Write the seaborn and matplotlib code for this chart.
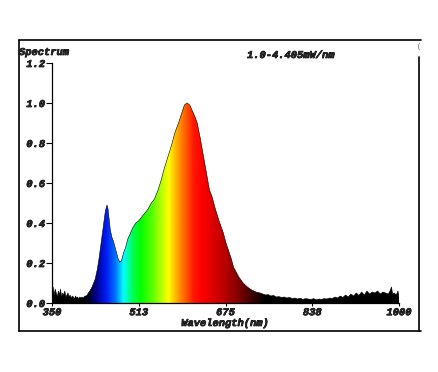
import numpy as np
import matplotlib
matplotlib.use("Agg")
import matplotlib.pyplot as plt
import matplotlib.patheffects as pe
from matplotlib.colors import LinearSegmentedColormap
from matplotlib.lines import Line2D
import seaborn as sns

# spectrum (wavelength nm, relative intensity)
wavelength = [
    350, 352, 354, 356, 358, 360, 362, 364, 366, 368, 370, 372, 374, 376, 378,
    380, 382, 384, 386, 388, 390, 392, 394, 396, 398, 400, 402, 404, 406, 408,
    410, 412, 414, 416, 418,
    421, 425, 428, 431, 435, 438, 441, 444, 447, 450, 453, 455, 457, 459, 462,
    465, 468, 471, 474, 477, 480, 484, 488, 492, 497, 502, 507, 512, 518, 524,
    530, 536, 542, 548, 554, 560, 567, 574, 580, 587, 593, 598, 603, 608, 613,
    618, 622, 628, 634, 640, 645, 650, 656, 663, 671, 676, 681, 686, 690, 695,
    700, 708, 716, 724, 732, 740,
    745, 750, 755, 760, 765, 770, 775, 780, 785, 790, 795, 800, 805, 810, 815,
    820, 825, 830, 835, 840, 845, 850, 855, 860, 865, 870, 875, 880, 885, 890,
    895, 900, 905, 910, 915, 920, 925, 930, 935, 940, 945, 950, 955, 960, 965,
    970, 975, 980, 983, 986, 988, 991, 995, 998, 1000,
]
intensity = [
    0.05, 0.08, 0.04, 0.07, 0.05, 0.03, 0.06, 0.04, 0.07, 0.03, 0.05, 0.04, 0.06, 0.03, 0.04,
    0.05, 0.03, 0.04, 0.025, 0.035, 0.03, 0.02, 0.035, 0.025, 0.03, 0.02, 0.03, 0.025, 0.03, 0.025,
    0.03, 0.035, 0.035, 0.04, 0.05,
    0.06, 0.08, 0.10, 0.12, 0.17, 0.22, 0.28, 0.34, 0.40, 0.46, 0.49, 0.47, 0.42, 0.37, 0.33,
    0.31, 0.28, 0.25, 0.22, 0.205, 0.21, 0.25, 0.28, 0.32, 0.35, 0.38, 0.40, 0.41, 0.43, 0.45,
    0.47, 0.50, 0.52, 0.56, 0.61, 0.67, 0.73, 0.79, 0.85, 0.90, 0.95, 0.99, 1.00, 0.99, 0.96,
    0.93, 0.90, 0.82, 0.73, 0.64, 0.565, 0.53, 0.47, 0.41, 0.35, 0.30, 0.26, 0.22, 0.18, 0.155,
    0.13, 0.10, 0.08, 0.065, 0.055, 0.05,
    0.045, 0.04, 0.042, 0.035, 0.038, 0.03, 0.032, 0.028, 0.03, 0.025, 0.028, 0.022, 0.025, 0.02, 0.024,
    0.018, 0.022, 0.02, 0.018, 0.022, 0.016, 0.02, 0.018, 0.022, 0.02, 0.025, 0.022, 0.03, 0.025, 0.035,
    0.028, 0.04, 0.03, 0.045, 0.035, 0.05, 0.038, 0.055, 0.04, 0.06, 0.045, 0.055, 0.05, 0.06, 0.045,
    0.055, 0.05, 0.045, 0.06, 0.08, 0.045, 0.05, 0.04, 0.06, 0.03,
]
x_ticks = [350, 512.5, 675, 837.5, 1000]
x_labels = ["350", "513", "675", "838", "1000"]
y_ticks = [0.0, 0.2, 0.4, 0.6, 0.8, 1.0, 1.2]

sns.set_style("white")
plt.rcParams["font.family"] = ["Liberation Mono", "DejaVu Sans"]
heavy = [pe.withStroke(linewidth=0.5, foreground="black")]
font = dict(fontsize=7.5, fontweight="bold", fontstyle="italic", path_effects=heavy)

W, H = 438, 372
fig = plt.figure(figsize=(W / 100, H / 100), dpi=100)
ax = fig.add_axes([52 / W, 1 - 303 / H, 347 / W, 240 / H])

# wavelength -> colour gradient for the fill
nodes = [
    (350, (0, 0, 0)), (412, (0, 0, 0)), (430, (0, 0, 0.5)), (450, (0, 0.1, 0.95)),
    (468, (0, 0.45, 1)), (483, (0, 1, 1)), (500, (0, 1, 0.35)), (515, (0, 1, 0)),
    (540, (0.4, 1, 0)), (568, (1, 1, 0)), (592, (1, 0.5, 0)), (615, (1, 0.1, 0)),
    (630, (1, 0, 0)), (670, (0.75, 0, 0)), (700, (0.5, 0, 0)), (728, (0.2, 0, 0)),
    (750, (0, 0, 0)), (1000, (0, 0, 0)),
]
cmap = LinearSegmentedColormap.from_list(
    "spec", [((w - 350) / 650, c) for w, c in nodes])
grad = np.linspace(0, 1, 1300)[None, :]

poly = ax.fill_between(wavelength, intensity, 0, facecolor="none", edgecolor="none")
img = ax.imshow(grad, cmap=cmap, extent=[350, 1000, 0, 1.2], aspect="auto",
                interpolation="bilinear", zorder=1)
img.set_clip_path(poly.get_paths()[0], transform=ax.transData)

sns.lineplot(x=wavelength, y=intensity, color="black", lw=0.4, ax=ax, zorder=2)

ax.set_xlim(350, 1000)
ax.set_ylim(0, 1.2)
ax.set_xticks(x_ticks)
ax.set_xticklabels(x_labels, **font)
ax.set_yticks(y_ticks)
ax.set_yticklabels([f"{v:.1f}" for v in y_ticks], **font)
ax.tick_params(axis="y", length=4, width=0.8, pad=1, color="black", left=True)
ax.tick_params(axis="x", length=2, width=0.8, pad=1, color="black", bottom=True)
ax.set_xlabel("")
ax.set_ylabel("")
for side in ["top", "right"]:
    ax.spines[side].set_visible(False)
for side in ["left", "bottom"]:
    ax.spines[side].set_color("black")
    ax.spines[side].set_linewidth(0.9)

# outer frame
def px(x, y):
    return x / W, 1 - y / H

for (x0, y0), (x1, y1) in [((19, 40), (421, 40)), ((19, 40), (19, 331)),
                           ((19, 331), (421, 331)), ((419, 57), (419, 331))]:
    a, b = px(x0, y0)
    c, d = px(x1, y1)
    fig.add_artist(Line2D([a, c], [b, d], color="black", lw=1.2))

fig.text(*px(19, 52), "Spectrum", ha="left", va="center", **font)
fig.text(*px(247, 55), "1.0-4.405mW/nm", ha="left", va="center", **font)
fig.text(*px(225, 323), "Wavelength(nm)", ha="center", va="center", **font)
fig.text(*px(419, 47), "(", ha="center", va="center", fontsize=5, color="#555555")

fig.savefig("out.png", dpi=100, facecolor="white")
